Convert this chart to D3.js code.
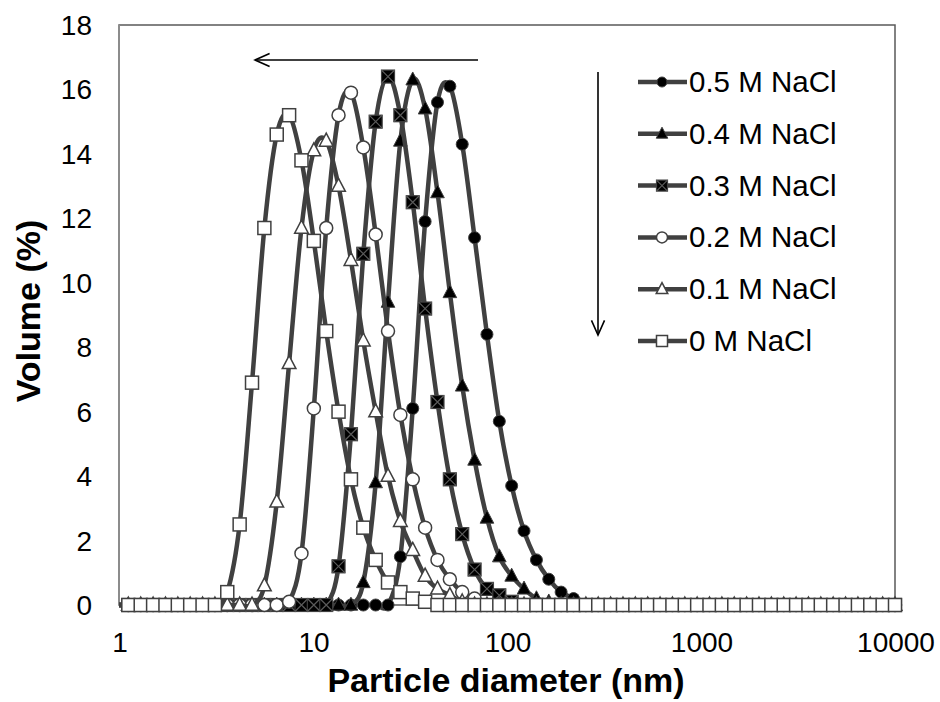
<!DOCTYPE html>
<html><head><meta charset="utf-8">
<script src="https://cdn.jsdelivr.net/npm/d3@7"></script>
<style>body{margin:0;background:#fff}svg{display:block}</style>
</head><body><svg id="c" width="940" height="702"></svg>
<script>
// particle size bins (nm)
const sizes = [0.4,0.4632,0.5365,0.6213,0.7195,0.8332,0.9649,1.117,1.294,1.499,1.736,2.01,2.328,2.696,3.122,3.615,4.187,4.849,5.615,6.503,7.531,8.721,10.1,11.7,13.54,15.69,18.17,21.04,24.36,28.21,32.67,37.84,43.82,50.75,58.77,68.06,78.82,91.28,105.7,122.4,141.8,164.2,190.1,220.2,255.0,295.3,342.0,396.1,458.7,531.2,615.1,712.4,825.0,955.4,1106,1281,1484,1718,1990,2305,2669,3091,3580,4145,4801,5560,6439,7456,8635,10000];
const seriesNames = ["0.5 M NaCl","0.4 M NaCl","0.3 M NaCl","0.2 M NaCl","0.1 M NaCl","0 M NaCl"];
const nacl05 = [0,0,0,0,0,0,0,0,0,0,0,0,0,0,0,0,0,0,0,0,0,0,0,0,0,0,0,0,0,1.5,6.1,11.9,15.6,16.1,14.3,11.4,8.4,5.7,3.7,2.3,1.4,0.8,0.4,0.2,0,0,0,0,0,0,0,0,0,0,0,0,0,0,0,0,0,0,0,0,0,0,0,0,0,0];
const nacl04 = [0,0,0,0,0,0,0,0,0,0,0,0,0,0,0,0,0,0,0,0,0,0,0,0,0,0,0.7,3.8,9.4,14.4,16.3,15.4,12.8,9.7,6.8,4.5,2.7,1.5,0.9,0.5,0.2,0.1,0,0,0,0,0,0,0,0,0,0,0,0,0,0,0,0,0,0,0,0,0,0,0,0,0,0,0,0];
const nacl03 = [0,0,0,0,0,0,0,0,0,0,0,0,0,0,0,0,0,0,0,0,0,0,0,0,1.2,5.3,10.9,15.0,16.4,15.2,12.5,9.2,6.3,3.9,2.2,1.1,0.5,0.3,0.1,0,0,0,0,0,0,0,0,0,0,0,0,0,0,0,0,0,0,0,0,0,0,0,0,0,0,0,0,0,0,0];
const nacl02 = [0,0,0,0,0,0,0,0,0,0,0,0,0,0,0,0,0,0,0,0,0.1,1.6,6.1,11.7,15.2,15.9,14.2,11.5,8.5,5.9,3.9,2.4,1.4,0.8,0.4,0.2,0,0,0,0,0,0,0,0,0,0,0,0,0,0,0,0,0,0,0,0,0,0,0,0,0,0,0,0,0,0,0,0,0,0];
const nacl01 = [0,0,0,0,0,0,0,0,0,0,0,0,0,0,0,0,0,0,0.6,3.2,7.5,11.7,14.1,14.4,13.0,10.7,8.2,6.0,4.0,2.6,1.7,0.9,0.5,0.3,0.1,0,0,0,0,0,0,0,0,0,0,0,0,0,0,0,0,0,0,0,0,0,0,0,0,0,0,0,0,0,0,0,0,0,0,0];
const nacl00 = [0,0,0,0,0,0,0,0,0,0,0,0,0,0,0,0.4,2.5,6.9,11.7,14.6,15.2,13.8,11.3,8.5,6.0,3.9,2.4,1.4,0.7,0.4,0.2,0.1,0,0,0,0,0,0,0,0,0,0,0,0,0,0,0,0,0,0,0,0,0,0,0,0,0,0,0,0,0,0,0,0,0,0,0,0,0,0];
const xTicks = [1,10,100,1000,10000];
const yTicks = [0,2,4,6,8,10,12,14,16,18];

const seriesData = [nacl05,nacl04,nacl03,nacl02,nacl01,nacl00];
const markers = ["fcircle","ftri","xsquare","ocircle","otri","osquare"];

const svg = d3.select("#c");
const FONT = "'Liberation Sans', Arial, sans-serif";
const L=119, R=895, T=25, B=605;
const x = d3.scaleLog().domain([1,10000]).range([L,R]);
const y = d3.scaleLinear().domain([0,18]).range([B,T]);
const LINE = "#404040";

svg.append("defs").append("clipPath").attr("id","clip")
  .append("rect").attr("x",L).attr("y",0).attr("width",R-L).attr("height",702);

// plot border
svg.append("rect").attr("x",L).attr("y",T).attr("width",R-L).attr("height",B-T)
  .attr("fill","none").attr("stroke","#595959").attr("stroke-width",1.5);
// y axis line (lighter)
svg.append("line").attr("x1",L).attr("x2",L).attr("y1",T).attr("y2",B)
  .attr("stroke","#8c8c8c").attr("stroke-width",2);

// tick labels
svg.append("g").selectAll("text").data(yTicks).join("text")
  .attr("x",92).attr("y",d=>y(d)+10).attr("text-anchor","end")
  .attr("font-family",FONT).attr("font-size",28).attr("fill","#000").text(d=>d);
svg.append("g").selectAll("text").data(xTicks).join("text")
  .attr("x",d=>x(d)+1).attr("y",652).attr("text-anchor","middle")
  .attr("font-family",FONT).attr("font-size",28).attr("fill","#000").text(d=>d);

// titles
svg.append("text").attr("x",(L+R)/2-1).attr("y",692).attr("text-anchor","middle")
  .attr("font-family",FONT).attr("font-weight","bold").attr("font-size",34).text("Particle diameter (nm)");
svg.append("text").attr("transform",`translate(40,${(T+B)/2-4}) rotate(-90)`).attr("text-anchor","middle")
  .attr("font-family",FONT).attr("font-weight","bold").attr("font-size",34).text("Volume (%)");

function drawMarker(g, type, cx, cy, s){
  if(type==="fcircle"){
    g.append("circle").attr("cx",cx).attr("cy",cy).attr("r",s*0.5).attr("fill","#000").attr("stroke",LINE).attr("stroke-width",1);
  } else if(type==="ocircle"){
    g.append("circle").attr("cx",cx).attr("cy",cy).attr("r",s*0.5).attr("fill","#fff").attr("stroke",LINE).attr("stroke-width",1.5);
  } else if(type==="ftri"||type==="otri"){
    const h=s*1.0, w=s*1.05;
    const p=[[cx,cy-h*0.6],[cx+w/2,cy+h*0.4],[cx-w/2,cy+h*0.4]];
    g.append("path").attr("d","M"+p.map(q=>q.join(",")).join("L")+"Z")
      .attr("fill",type==="ftri"?"#000":"#fff").attr("stroke",LINE).attr("stroke-width",type==="ftri"?1:1.5);
  } else if(type==="osquare"){
    g.append("rect").attr("x",cx-s/2).attr("y",cy-s/2).attr("width",s).attr("height",s)
      .attr("fill","#fff").attr("stroke",LINE).attr("stroke-width",1.5);
  } else if(type==="xsquare"){
    g.append("rect").attr("x",cx-s/2).attr("y",cy-s/2).attr("width",s).attr("height",s)
      .attr("fill","#000").attr("stroke",LINE).attr("stroke-width",1.2);
    g.append("path").attr("d",`M${cx-s/2},${cy-s/2}L${cx+s/2},${cy+s/2}M${cx+s/2},${cy-s/2}L${cx-s/2},${cy+s/2}`)
      .attr("stroke","#5a5a5a").attr("stroke-width",1.2);
  }
}
const mSize = [12,13,13,13,13,13];

const line = d3.line().x(d=>x(d[0])).y(d=>y(d[1])).curve(d3.curveCardinal.tension(0));
seriesData.forEach((vals,i)=>{
  const pts = sizes.map((s,j)=>[s,vals[j]]);
  const g = svg.append("g");
  g.append("path").attr("clip-path","url(#clip)").attr("d",line(pts)).attr("fill","none")
    .attr("stroke",LINE).attr("stroke-width",4.5).attr("stroke-linejoin","round");
  pts.filter(p=>p[0]>=1).forEach(p=>drawMarker(g,markers[i],x(p[0]),y(p[1]),mSize[i]));
});

// legend
const lg = svg.append("g");
seriesNames.forEach((n,i)=>{
  const yy = 82 + i*51.8;
  lg.append("line").attr("x1",638).attr("x2",687).attr("y1",yy).attr("y2",yy).attr("stroke",LINE).attr("stroke-width",4.5);
  drawMarker(lg,markers[i],662,yy,mSize[i]-2);
  lg.append("text").attr("x",689).attr("y",yy+10).attr("font-family",FONT).attr("font-size",29.5).attr("fill","#000").text(n);
});

// arrows
function arrow(x1,y1,x2,y2){
  svg.append("line").attr("x1",x1).attr("y1",y1).attr("x2",x2).attr("y2",y2).attr("stroke","#000").attr("stroke-width",1.6);
  const a=Math.atan2(y2-y1,x2-x1), len=16, sp=0.42;
  const p1=[x2-len*Math.cos(a-sp), y2-len*Math.sin(a-sp)];
  const p2=[x2-len*Math.cos(a+sp), y2-len*Math.sin(a+sp)];
  svg.append("path").attr("d",`M${p1}L${x2},${y2}L${p2}`).attr("fill","none").attr("stroke","#000").attr("stroke-width",1.6);
}
arrow(478,60,255,60);
arrow(598,72,598,335);
</script></body></html>
